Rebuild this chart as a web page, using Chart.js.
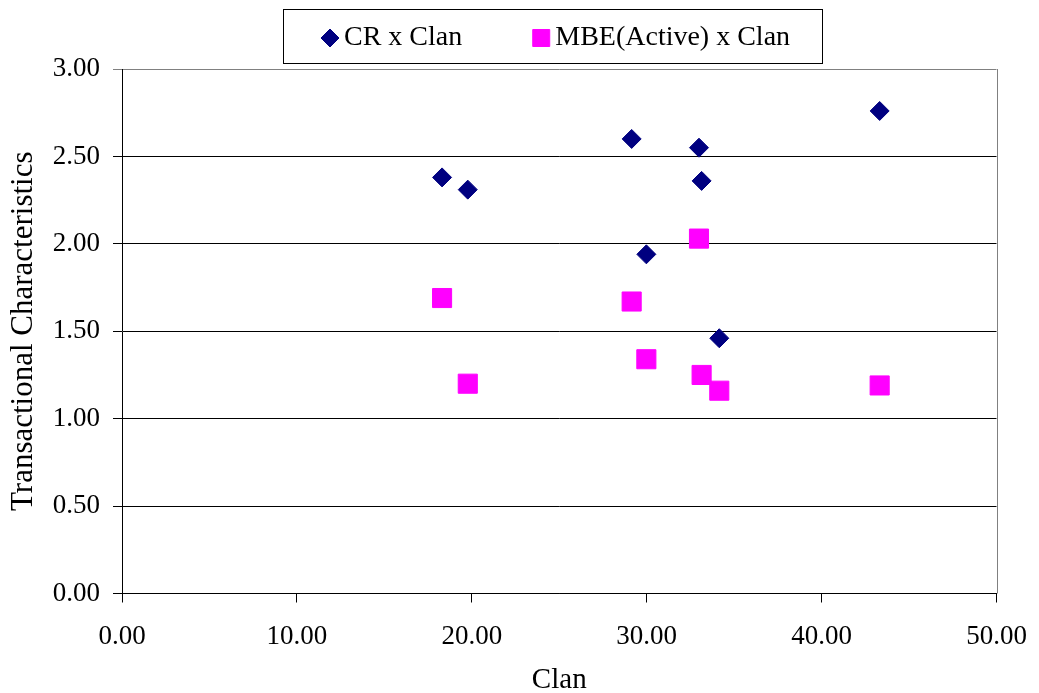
<!DOCTYPE html>
<html>
<head>
<meta charset="utf-8">
<script src="https://cdn.jsdelivr.net/npm/chart.js@4/dist/chart.umd.min.js"></script>
<style>
  html, body { margin: 0; padding: 0; background: #fff; }
  #wrap { width: 1039px; height: 693px; position: relative; }
</style>
</head>
<body>
<div id="wrap"><canvas id="scatterChart"></canvas></div>
<script>
// data
const clanValues = [18.30, 19.77, 29.14, 29.98, 32.99, 33.14, 34.15, 43.32];
const crValues = [2.38, 2.31, 2.60, 1.94, 2.55, 2.36, 1.46, 2.76];
const mbeValues = [1.69, 1.20, 1.67, 1.34, 2.03, 1.25, 1.16, 1.19];
const seriesLabels = ['CR x Clan', 'MBE(Active) x Clan'];

const SERIF = "'Liberation Serif', 'Times New Roman', serif";

const toPoints = (ys) => clanValues.map((x, i) => ({ x: x, y: ys[i] }));

// legend drawn in a framed box above the plot, like the Excel original
const boxLegend = {
    id: 'boxLegend',
    afterDraw(chart) {
        const ctx = chart.ctx;
        ctx.save();
        ctx.fillStyle = '#fff';
        ctx.strokeStyle = '#000';
        ctx.lineWidth = 1;
        ctx.fillRect(283.5, 9.5, 539, 54);
        ctx.strokeRect(283.5, 9.5, 539, 54);

        ctx.font = '28px ' + SERIF;
        ctx.textBaseline = 'middle';
        ctx.textAlign = 'left';
        let x = 320;
        const y = 38;
        chart.data.datasets.forEach((ds) => {
            ctx.fillStyle = ds.backgroundColor;
            ctx.strokeStyle = ds.borderColor;
            ctx.lineWidth = ds.borderWidth;
            Chart.helpers.drawPoint(ctx, {
                pointStyle: ds.pointStyle,
                radius: ds.pointStyle === 'rect' ? 12 : 9,
                rotation: 0,
                borderWidth: ds.borderWidth
            }, x + 10, y);
            ctx.fillStyle = '#000';
            ctx.fillText(ds.label, x + 24, y);
            x += 24 + ctx.measureText(ds.label).width + 69;
        });
        ctx.restore();
    }
};

// grey frame line on the right side of the plot
const plotFrame = {
    id: 'plotFrame',
    beforeDatasetsDraw(chart) {
        const { ctx, chartArea } = chart;
        ctx.save();
        ctx.strokeStyle = '#808080';
        ctx.lineWidth = 1;
        ctx.beginPath();
        const rx = Math.round(chartArea.right) + 0.5;
        ctx.moveTo(rx, chartArea.top);
        ctx.lineTo(rx, chartArea.bottom);
        ctx.stroke();
        ctx.restore();
    }
};

new Chart(document.getElementById('scatterChart').getContext('2d'), {
    type: 'scatter',
    data: {
        datasets: [
            {
                label: seriesLabels[0],
                data: toPoints(crValues),
                pointStyle: 'rectRot',
                pointRadius: 9.5,
                backgroundColor: '#000080',
                borderColor: '#000080',
                borderWidth: 1
            },
            {
                label: seriesLabels[1],
                data: toPoints(mbeValues),
                pointStyle: 'rect',
                pointRadius: 13.5,
                backgroundColor: '#ff00ff',
                borderColor: '#ff00ff',
                borderWidth: 1
            }
        ]
    },
    options: {
        responsive: true,
        maintainAspectRatio: false,
        animation: false,
        layout: { padding: { left: 0, top: 69, right: 42.5, bottom: 0 } },
        plugins: {
            legend: { display: false },
            tooltip: { enabled: false }
        },
        scales: {
            x: {
                type: 'linear',
                min: 0,
                max: 50,
                afterFit: (scale) => {
                    scale.height = 99.5;
                    scale.paddingLeft = 0;
                    scale.paddingRight = 0;
                },
                ticks: {
                    stepSize: 10,
                    padding: 18,
                    color: '#000',
                    font: { family: SERIF, size: 27 },
                    maxRotation: 0,
                    callback: (v) => v.toFixed(2)
                },
                grid: { drawOnChartArea: false, color: '#000', tickLength: 9 },
                border: { color: '#000', width: 1 },
                title: {
                    display: true,
                    text: 'Clan',
                    color: '#000',
                    padding: { top: 0, bottom: 0 },
                    font: { family: SERIF, size: 29, lineHeight: 0.9 }
                }
            },
            y: {
                min: 0,
                max: 3,
                afterFit: (scale) => { scale.width = 122; },
                ticks: {
                    stepSize: 0.5,
                    padding: 13,
                    color: '#000',
                    font: { family: SERIF, size: 27 },
                    callback: (v) => v.toFixed(2)
                },
                grid: {
                    color: (c) => (c.tick && c.tick.value === 3 ? '#808080' : '#000'),
                    tickLength: 9
                },
                border: { color: '#000', width: 1 },
                title: {
                    display: true,
                    text: 'Transactional Characteristics',
                    color: '#000',
                    padding: { top: 8, bottom: 0 },
                    font: { family: SERIF, size: 31, lineHeight: 1 }
                }
            }
        }
    },
    plugins: [plotFrame, boxLegend]
});
</script>
</body>
</html>
